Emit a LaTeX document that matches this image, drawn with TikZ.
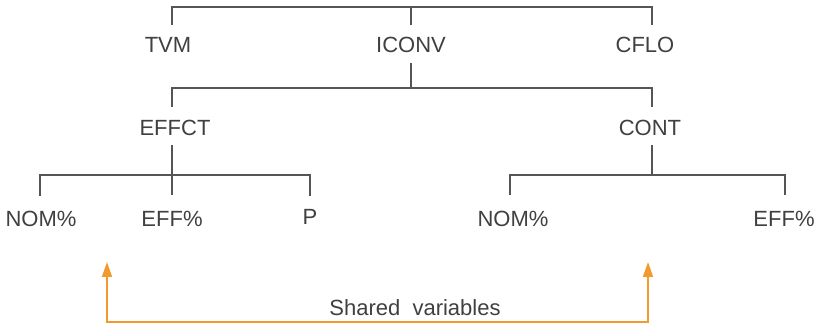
\documentclass[tikz,border=0pt]{standalone}
\usepackage{fontspec}
\setmainfont{Liberation Sans}
\usetikzlibrary{arrows.meta}
\definecolor{ink}{HTML}{40403E}
\definecolor{tree}{HTML}{555553}
\definecolor{orng}{HTML}{F29A2E}
\begin{document}
\begin{tikzpicture}[x=1pt,y=-1pt,
  lbl/.style={font=\fontsize{22}{24}\selectfont, text=ink, inner sep=0pt, anchor=center},
  br/.style={draw=tree, line width=1.4pt},
  sharedarrow/.style={draw=orng, line width=1.6pt, -{Triangle[length=15pt,width=10pt]}}]
\useasboundingbox (0,0) rectangle (821,328);
% level 1
\node[lbl] (tvm) at (168,45) {TVM};
\node[lbl] (iconv) at (411,45) {ICONV};
\node[lbl] (cflo) at (645,45) {CFLO};
\coordinate (topL) at (172,7);
\coordinate (topM) at (411,7);
\coordinate (topR) at (652,7);
\draw[br] (172,25) -- (topL) -- (topR) -- (652,25);
\draw[br] (topM) -- (411,25);
% level 2
\node[lbl] (effct) at (175,128) {EFFCT};
\node[lbl] (cont) at (650,128) {CONT};
\draw[br] (411,63) -- (411,88);
\draw[br] (172,107) -- (172,88) -- (652,88) -- (652,107);
% level 3 left
\node[lbl] (nom1) at (41,219) {NOM\%};
\node[lbl] (eff1) at (172,219) {EFF\%};
\node[lbl] (p) at (310,217) {P};
\draw[br] (172,145) -- (172,195);
\draw[br] (40,196) -- (40,175) -- (310,175) -- (310,196);
% level 3 right
\node[lbl] (nom2) at (513,219) {NOM\%};
\node[lbl] (eff2) at (784,219) {EFF\%};
\draw[br] (652,145) -- (652,175);
\draw[br] (510,195) -- (510,175) -- (785,175) -- (785,195);
% shared
\node[lbl] (shared) at (415,308) {Shared\ \ variables};
\coordinate (sl) at (107,322);
\coordinate (sr) at (648,322);
\coordinate (tl) at (107,262);
\coordinate (tr) at (648,262);
\draw[sharedarrow] (sr) -- (sl) -- (tl);
\draw[sharedarrow] (sl) -- (sr) -- (tr);
\end{tikzpicture}
\end{document}
